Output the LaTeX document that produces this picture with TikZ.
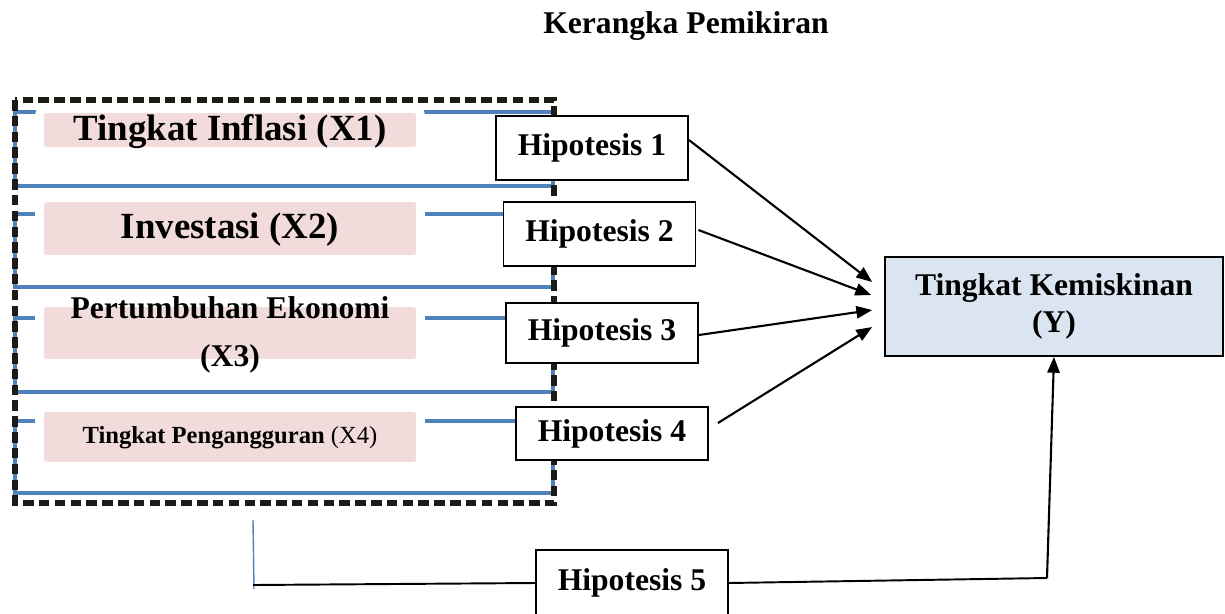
\documentclass[tikz,border=0pt]{standalone}
\usepackage{fontspec}
\setmainfont{Liberation Serif}
\usepackage{tikz}
\usepackage{xcolor}
\usetikzlibrary{calc}
\usetikzlibrary{positioning, fit, arrows.meta}

\definecolor{rowblue}{HTML}{4F81BD}
\definecolor{pinkfill}{HTML}{F2DCDB}
\definecolor{yfill}{HTML}{DBE5F1}
\definecolor{framedark}{HTML}{1E1B16}

\begin{document}
\begin{tikzpicture}[x=0.02cm, y=-0.02cm,
        >={Triangle[length=9pt,width=7pt]}, % Arrow tip style
        hipbox/.style={draw, fill=white, line width=1.1pt, minimum width=3.84cm, inner sep=0pt,
            font=\fontsize{18}{21}\selectfont\bfseries},
        pinkbox/.style={draw=white, line width=5pt, fill=pinkfill, rounded corners=4pt,
            minimum width=7.62cm, inner sep=0pt},
        rowline/.style={draw=rowblue, line width=2pt},
        dashframe/.style={draw=framedark, line width=3.2pt, dash pattern=on 6pt off 3pt},
        arr/.style={line width=1.2pt, ->}]
                \useasboundingbox (0,0) rectangle (1225,613);

                % Title
                \node[font=\fontsize{18}{21}\selectfont\bfseries] (title) at (686,26) {Kerangka Pemikiran};

                % Blue rows behind the variables
                \foreach \t/\b in {112/186, 214/287, 318/392, 421/493}
                    \draw[rowline] (15,\t) rectangle (553,\b);

                % Pink boxes for the variables X1 .. X4
                \node[pinkbox, minimum height=0.86cm] (p1) at (230,130) {};
                \node[pinkbox, minimum height=1.24cm] (p2) at (230,228.5) {};
                \node[pinkbox, minimum height=1.22cm] (p3) at (230,333) {};
                \node[pinkbox, minimum height=1.18cm] (p4) at (230,437) {};

                \node[font=\fontsize{21}{25}\selectfont\bfseries] (x1) at ([shift={(0,2)}]p1.center) {Tingkat Inflasi (X1)};
                \node[font=\fontsize{21}{25}\selectfont\bfseries] (x2) at ([shift={(0,1)}]p2.center) {Investasi (X2)};
                \node[font=\fontsize{18}{27}\selectfont\bfseries, align=center] (x3) at ([shift={(0,2)}]p3.center) {Pertumbuhan Ekonomi\\(X3)};
                \node[font=\fontsize{14}{17}\selectfont] (x4) at ([shift={(0,1)}]p4.center) {\textbf{Tingkat Pengangguran} (X4)};

                % Dashed frame round all variables
                \draw[dashframe] (15,100) rectangle (554,503);

                % Hypothesis boxes
                \node[hipbox, minimum height=1.28cm] (h1) at (592,148) {Hipotesis 1};
                \node[hipbox, minimum height=1.28cm] (h2) at (599.5,234) {Hipotesis 2};
                \node[hipbox, minimum height=1.2cm] (h3) at (602,333) {Hipotesis 3};
                \node[hipbox, minimum height=1.06cm] (h4) at (612,433.5) {Hipotesis 4};
                \node[hipbox, minimum height=1.32cm] (h5) at (632,583) {Hipotesis 5};

                % Dependent variable
                \node[draw, fill=yfill, line width=1pt, minimum width=6.76cm, minimum height=1.98cm,
                    align=center, font=\fontsize{18}{21}\selectfont\bfseries] (yb) at (1054,306.5)
                    {Tingkat Kemiskinan\\(Y)};

                % Arrows from each hypothesis to Y
                \draw[arr] ([shift={(0,-8)}]h1.east) -- ([shift={(-12,-24.5)}]yb.west);
                \draw[arr] ([shift={(2,-4)}]h2.east) -- ([shift={(-13,-11.5)}]yb.west);
                \draw[arr] ([shift={(0,2)}]h3.east) -- ([shift={(-12,3.5)}]yb.west);
                \draw[arr] ([shift={(9,-10.5)}]h4.east) -- ([shift={(-12,20.5)}]yb.west);

                % Joint hypothesis along the bottom
                \coordinate (c5l) at (253,585);
                \coordinate (c5r) at (1047,578);
                \draw[rowblue, line width=0.8pt] (253,520) -- (254,589);
                \draw[line width=1.1pt] (c5l) -- (h5.west);
                \draw[line width=1.1pt] (h5.east) -- (c5r);
                \draw[arr] (c5r) -- (yb.south);
\end{tikzpicture}
\end{document}
